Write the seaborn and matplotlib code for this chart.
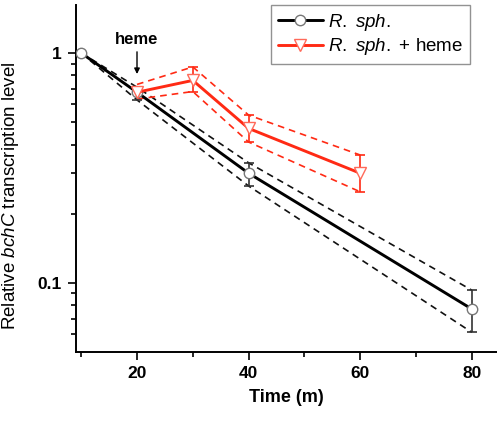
import matplotlib
matplotlib.use("Agg")
import matplotlib.pyplot as plt
import seaborn as sns
import pandas as pd
from matplotlib.ticker import FixedLocator, NullFormatter, LogLocator

# ---- data ----
time_wt = [10, 20, 40, 80]
wt_mean = [1.0, 0.675, 0.30, 0.077]
wt_hi = [1.0, 0.71, 0.333, 0.093]
wt_lo = [1.0, 0.625, 0.264, 0.061]

time_heme = [20, 30, 40, 60]
heme_mean = [0.675, 0.76, 0.47, 0.30]
heme_hi = [0.73, 0.87, 0.537, 0.36]
heme_lo = [0.63, 0.68, 0.41, 0.249]

x_ticks = [20, 40, 60, 80]
y_ticks = [0.1, 1]
y_ticklabels = ["0.1", "1"]

sns.set_style("ticks")
plt.rcParams["font.family"] = ["Liberation Sans", "DejaVu Sans"]
plt.rcParams["mathtext.fontset"] = "custom"
plt.rcParams["mathtext.rm"] = "Liberation Sans"
plt.rcParams["mathtext.it"] = "Liberation Sans:italic"
plt.rcParams["mathtext.bf"] = "Liberation Sans:bold"
plt.rcParams["text.color"] = "black"
plt.rcParams["axes.labelcolor"] = "black"
plt.rcParams["xtick.color"] = "black"
plt.rcParams["ytick.color"] = "black"
plt.rcParams["axes.edgecolor"] = "black"

BLACK = "#000000"
RED = "#ff2a14"

fig = plt.figure(figsize=(4.97, 4.21), dpi=100)
ax = fig.add_axes([76 / 497, 69 / 421, 421 / 497, 347 / 421])

df_wt = pd.DataFrame({"t": time_wt, "m": wt_mean, "hi": wt_hi, "lo": wt_lo})
df_h = pd.DataFrame({"t": time_heme, "m": heme_mean, "hi": heme_hi, "lo": heme_lo})

# dashed bounds
for col in ["hi", "lo"]:
    sns.lineplot(data=df_wt, x="t", y=col, ax=ax, color="#111111", lw=1.2,
                 linestyle=(0, (4, 3)), legend=False)
    sns.lineplot(data=df_h, x="t", y=col, ax=ax, color=RED, lw=1.2,
                 linestyle=(0, (4, 3)), legend=False)

# error bars
ax.errorbar(time_wt[1:], wt_mean[1:],
            yerr=[[m - l for m, l in zip(wt_mean[1:], wt_lo[1:])],
                  [h - m for m, h in zip(wt_mean[1:], wt_hi[1:])]],
            fmt="none", ecolor="#333333", elinewidth=1.2, capsize=3.5, capthick=1.2, zorder=3)
ax.errorbar(time_heme[1:], heme_mean[1:],
            yerr=[[m - l for m, l in zip(heme_mean[1:], heme_lo[1:])],
                  [h - m for m, h in zip(heme_mean[1:], heme_hi[1:])]],
            fmt="none", ecolor=RED, elinewidth=1.2, capsize=3.5, capthick=1.2, zorder=3)

# main lines
sns.lineplot(data=df_wt, x="t", y="m", ax=ax, color=BLACK, lw=2.1, marker="o",
             markersize=7.5, markerfacecolor="white", markeredgecolor="#777777",
             markeredgewidth=1.0, label=r"$\it{R.\ sph.}$", zorder=5)
sns.lineplot(data=df_h, x="t", y="m", ax=ax, color=RED, lw=2.1, marker="v",
             markersize=8.5, markerfacecolor="white", markeredgecolor="#ff6a5a",
             markeredgewidth=1.0, label=r"$\it{R.\ sph.}$ + heme", zorder=5)

ax.set_yscale("log")
ax.set_xlim(9.07, 84.5)
ax.set_ylim(0.0501, 1.617)

ax.set_xticks(x_ticks)
ax.set_xticklabels([str(v) for v in x_ticks], fontweight="bold", fontsize=12.5)
ax.xaxis.set_minor_locator(FixedLocator([10, 30, 50, 70]))
ax.set_yticks(y_ticks)
ax.set_yticklabels(y_ticklabels, fontweight="bold", fontsize=12.5)
ax.yaxis.set_minor_locator(LogLocator(base=10, subs=[2, 3, 4, 5, 6, 7, 8, 9]))
ax.yaxis.set_minor_formatter(NullFormatter())

ax.tick_params(axis="both", which="major", direction="out", length=6, width=1.2, pad=4)
ax.tick_params(axis="both", which="minor", direction="out", length=3.5, width=1.2)

for s in ["top", "right"]:
    ax.spines[s].set_visible(False)
for s in ["left", "bottom"]:
    ax.spines[s].set_linewidth(1.4)

ax.set_xlabel("Time (m)", fontweight="bold", fontsize=13, labelpad=6)
ax.set_ylabel(r"Relative $\it{bchC}$ transcription level", fontsize=13.5, labelpad=6)
ax.yaxis.set_label_coords(-0.13, 0.45)

ax.annotate("heme", xy=(20, 0.81), xytext=(20, 1.06), ha="center", va="bottom",
            fontweight="bold", fontsize=12,
            arrowprops=dict(arrowstyle="-|>", color="black", lw=1.0, mutation_scale=8,
                            shrinkA=1, shrinkB=0))

leg = ax.legend(loc="upper right", bbox_to_anchor=(0.936, 1.0), borderaxespad=0,
                fontsize=13.5, frameon=True, fancybox=False, handlelength=2.4,
                handletextpad=0.3, borderpad=0.35, labelspacing=0.2)
leg.get_frame().set_edgecolor("#777777")
leg.get_frame().set_linewidth(1.0)

fig.savefig("out.png", dpi=100)
